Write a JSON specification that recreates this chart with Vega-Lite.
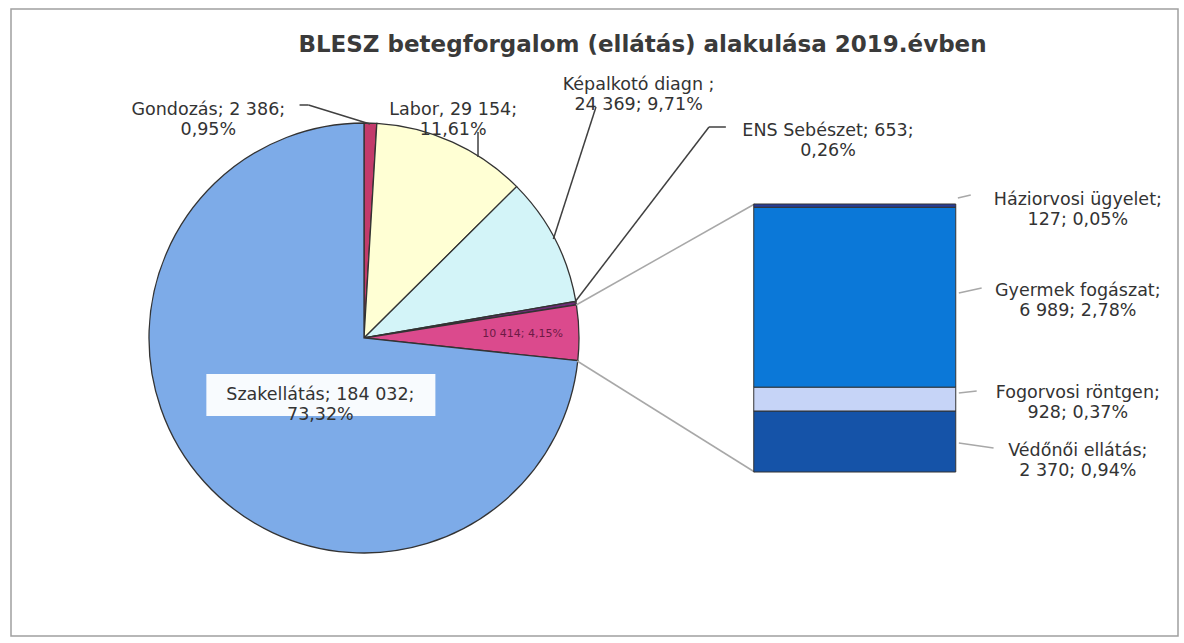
{
  "$schema": "https://vega.github.io/schema/vega-lite/v6.json",
  "width": 1167,
  "height": 627,
  "autosize": {"type": "none"},
  "padding": {"left": 11, "top": 9, "right": 6, "bottom": 7},
  "background": "white",
  "title": {
    "text": "BLESZ betegforgalom (ellátás) alakulása 2019.évben",
    "font": "DejaVu Sans", "fontSize": 23, "fontWeight": "bold", "color": "#3a3a3a",
    "anchor": "middle", "frame": "group", "offset": 0, "baseline": "alphabetic", "dx": 48, "dy": 66
  },
  "config": {
    "view": {"stroke": "#a0a0a0", "strokeWidth": 1.5},
    "axis": {"disable": true},
    "legend": {"disable": true},
    "text": {"font": "DejaVu Sans", "fontSize": 17.5, "fill": "#333333", "align": "center", "baseline": "middle", "lineBreak": "\n", "lineHeight": 20}
  },
  "datasets": {
    "pie": [
      {"cat": "Gondozás", "v": 2386, "o": 1, "lbl": "Gondozás; 2 386;\n0,95%"},
      {"cat": "Labor", "v": 29154, "o": 2, "lbl": "Labor, 29 154;\n11,61%"},
      {"cat": "Képalkotó diagn", "v": 24369, "o": 3, "lbl": "Képalkotó diagn ;\n24 369; 9,71%"},
      {"cat": "ENS Sebészet", "v": 653, "o": 4, "lbl": "ENS Sebészet; 653;\n0,26%"},
      {"cat": "Egyéb", "v": 10414, "o": 5, "lbl": "10 414; 4,15%"},
      {"cat": "Szakellátás", "v": 184032, "o": 6, "lbl": "Szakellátás; 184 032;\n73,32%"}
    ],
    "bar": [
      {"cat": "Védőnői ellátás", "v": 2370, "o": 1, "lbl": "Védőnői ellátás;\n2 370; 0,94%"},
      {"cat": "Fogorvosi röntgen", "v": 928, "o": 2, "lbl": "Fogorvosi röntgen;\n928; 0,37%"},
      {"cat": "Gyermek fogászat", "v": 6989, "o": 3, "lbl": "Gyermek fogászat;\n6 989; 2,78%"},
      {"cat": "Háziorvosi ügyelet", "v": 127, "o": 4, "lbl": "Háziorvosi ügyelet;\n127; 0,05%"}
    ]
  },
  "resolve": {"scale": {"y": "independent"}},
  "layer": [
    {
      "data": {"name": "pie"},
      "layer": [
        {
          "mark": {"type": "arc", "radius": 215, "stroke": "#333333", "strokeWidth": 1.3},
          "encoding": {
            "x": {"datum": 362, "type": "quantitative", "scale": {"domain": [11, 1178], "nice": false, "zero": false}, "axis": null},
            "y": {"datum": 338, "type": "quantitative", "scale": {"domain": [9, 636], "nice": false, "zero": false, "reverse": true}, "axis": null},
            "theta": {"field": "v", "type": "quantitative", "stack": true},
            "color": {
              "field": "cat", "type": "nominal", "legend": null,
              "scale": {
                "domain": ["Gondozás", "Labor", "Képalkotó diagn", "ENS Sebészet", "Egyéb", "Szakellátás", "Védőnői ellátás", "Fogorvosi röntgen", "Gyermek fogászat", "Háziorvosi ügyelet"],
                "range": ["#C23B6B", "#FFFFD4", "#D3F4F8", "#6E2B77", "#DB4A8D", "#7DABE8", "#1553A8", "#C6D4F7", "#0B78D8", "#283C96"]
              }
            },
            "order": {"field": "o", "type": "quantitative"}
          }
        },
        {
          "data": {"values": [{}]},
          "mark": {"type": "rect", "fill": "white", "opacity": 0.95},
          "encoding": {
            "x": {"datum": 203, "type": "quantitative", "axis": null}, "x2": {"datum": 434},
            "y": {"datum": 374, "type": "quantitative", "axis": null}, "y2": {"datum": 416}
          }
        },
        {
          "transform": [{"filter": {"field": "cat", "equal": "Szakellátás"}}],
          "mark": {"type": "text"},
          "encoding": {"x": {"datum": 318, "type": "quantitative", "axis": null}, "y": {"datum": 395, "type": "quantitative", "axis": null}, "text": {"field": "lbl"}}
        },
        {
          "transform": [{"filter": {"field": "cat", "equal": "Gondozás"}}],
          "mark": {"type": "text"},
          "encoding": {"x": {"datum": 205, "type": "quantitative", "axis": null}, "y": {"datum": 110, "type": "quantitative", "axis": null}, "text": {"field": "lbl"}}
        },
        {
          "transform": [{"filter": {"field": "cat", "equal": "Labor"}}],
          "mark": {"type": "text"},
          "encoding": {"x": {"datum": 452, "type": "quantitative", "axis": null}, "y": {"datum": 110, "type": "quantitative", "axis": null}, "text": {"field": "lbl"}}
        },
        {
          "transform": [{"filter": {"field": "cat", "equal": "Képalkotó diagn"}}],
          "mark": {"type": "text"},
          "encoding": {"x": {"datum": 639, "type": "quantitative", "axis": null}, "y": {"datum": 85, "type": "quantitative", "axis": null}, "text": {"field": "lbl"}}
        },
        {
          "transform": [{"filter": {"field": "cat", "equal": "ENS Sebészet"}}],
          "mark": {"type": "text"},
          "encoding": {"x": {"datum": 830, "type": "quantitative", "axis": null}, "y": {"datum": 131, "type": "quantitative", "axis": null}, "text": {"field": "lbl"}}
        },
        {
          "transform": [{"filter": {"field": "cat", "equal": "Egyéb"}}],
          "mark": {"type": "text", "fontSize": 11, "fill": "#6d1a45"},
          "encoding": {"x": {"datum": 522, "type": "quantitative", "axis": null}, "y": {"datum": 334, "type": "quantitative", "axis": null}, "text": {"field": "lbl"}}
        },
        {
          "data": {"values": [{}]},
          "mark": {"type": "rule", "stroke": "#404040", "strokeWidth": 1.5},
          "encoding": {"x": {"datum": 297, "type": "quantitative"}, "x2": {"datum": 306}, "y": {"datum": 105, "type": "quantitative"}, "y2": {"datum": 105}}
        },
        {
          "data": {"values": [{}]},
          "mark": {"type": "rule", "stroke": "#404040", "strokeWidth": 1.5},
          "encoding": {"x": {"datum": 306, "type": "quantitative"}, "x2": {"datum": 368}, "y": {"datum": 105, "type": "quantitative"}, "y2": {"datum": 124}}
        },
        {
          "data": {"values": [{}]},
          "mark": {"type": "rule", "stroke": "#404040", "strokeWidth": 1.5},
          "encoding": {"x": {"datum": 477, "type": "quantitative"}, "x2": {"datum": 477}, "y": {"datum": 132, "type": "quantitative"}, "y2": {"datum": 157}}
        },
        {
          "data": {"values": [{}]},
          "mark": {"type": "rule", "stroke": "#404040", "strokeWidth": 1.5},
          "encoding": {"x": {"datum": 596, "type": "quantitative"}, "x2": {"datum": 553}, "y": {"datum": 107, "type": "quantitative"}, "y2": {"datum": 239}}
        },
        {
          "data": {"values": [{}]},
          "mark": {"type": "rule", "stroke": "#404040", "strokeWidth": 1.5},
          "encoding": {"x": {"datum": 710, "type": "quantitative"}, "x2": {"datum": 727}, "y": {"datum": 127, "type": "quantitative"}, "y2": {"datum": 127}}
        },
        {
          "data": {"values": [{}]},
          "mark": {"type": "rule", "stroke": "#404040", "strokeWidth": 1.5},
          "encoding": {"x": {"datum": 710, "type": "quantitative"}, "x2": {"datum": 574}, "y": {"datum": 127, "type": "quantitative"}, "y2": {"datum": 303}}
        },
        {
          "data": {"values": [{}]},
          "mark": {"type": "rule", "stroke": "#a8a8a8", "strokeWidth": 1.5},
          "encoding": {"x": {"datum": 576, "type": "quantitative"}, "x2": {"datum": 756}, "y": {"datum": 305, "type": "quantitative"}, "y2": {"datum": 204}}
        },
        {
          "data": {"values": [{}]},
          "mark": {"type": "rule", "stroke": "#a8a8a8", "strokeWidth": 1.5},
          "encoding": {"x": {"datum": 577, "type": "quantitative"}, "x2": {"datum": 756}, "y": {"datum": 361, "type": "quantitative"}, "y2": {"datum": 472}}
        },
        {
          "data": {"values": [{}]},
          "mark": {"type": "rule", "stroke": "#a8a8a8", "strokeWidth": 1.5},
          "encoding": {"x": {"datum": 961, "type": "quantitative"}, "x2": {"datum": 974}, "y": {"datum": 198, "type": "quantitative"}, "y2": {"datum": 195}}
        },
        {
          "data": {"values": [{}]},
          "mark": {"type": "rule", "stroke": "#a8a8a8", "strokeWidth": 1.5},
          "encoding": {"x": {"datum": 962, "type": "quantitative"}, "x2": {"datum": 985}, "y": {"datum": 293, "type": "quantitative"}, "y2": {"datum": 288}}
        },
        {
          "data": {"values": [{}]},
          "mark": {"type": "rule", "stroke": "#a8a8a8", "strokeWidth": 1.5},
          "encoding": {"x": {"datum": 962, "type": "quantitative"}, "x2": {"datum": 980}, "y": {"datum": 393, "type": "quantitative"}, "y2": {"datum": 391}}
        },
        {
          "data": {"values": [{}]},
          "mark": {"type": "rule", "stroke": "#a8a8a8", "strokeWidth": 1.5},
          "encoding": {"x": {"datum": 962, "type": "quantitative"}, "x2": {"datum": 997}, "y": {"datum": 443, "type": "quantitative"}, "y2": {"datum": 448}}
        }
      ]
    },
    {
      "data": {"name": "bar"},
      "layer": [
        {
          "mark": {"type": "bar", "width": 202, "stroke": "#333333", "strokeWidth": 1},
          "encoding": {
            "x": {"datum": 857, "type": "quantitative", "axis": null},
            "y": {"field": "v", "type": "quantitative", "stack": "zero", "scale": {"domain": [0, 10414], "nice": false, "zero": true, "range": [463, 195]}, "axis": null},
            "color": {"field": "cat", "type": "nominal", "legend": null},
            "order": {"field": "o", "type": "quantitative"}
          }
        },
        {
          "mark": {"type": "text", "dy": {"expr": "datum.cat === 'Védőnői ellátás' ? 9 : -6"}},
          "encoding": {
            "x": {"datum": 1082, "type": "quantitative", "axis": null},
            "y": {"field": "v", "type": "quantitative", "stack": "zero", "bandPosition": 0.5, "axis": null},
            "detail": {"field": "cat"},
            "order": {"field": "o", "type": "quantitative"},
            "text": {"field": "lbl"}
          }
        }
      ]
    }
  ]
}
